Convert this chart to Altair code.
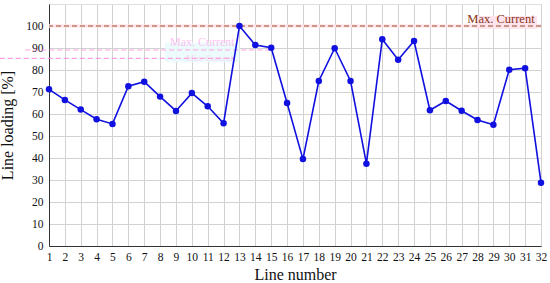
import altair as alt
import pandas as pd

lines = list(range(1, 33))
loading = [71.2, 66.4, 62.0, 57.6, 55.5, 72.6, 74.7, 67.9, 61.4, 69.5, 63.5, 55.8,
           100.0, 91.4, 90.1, 65.0, 39.5, 75.0, 89.9, 75.0, 37.4, 94.0, 84.7, 93.2,
           61.7, 65.9, 61.5, 57.3, 55.1, 80.1, 80.8, 28.8]
max_current = 100
label_text = "Max. Current"
ghost_levels = [89.1, 85.3]
ghost_x_start = [-0.5, -2.1]
ghost_x_end = [14.9, 12.7]
ghost_labels = ["Max. Current", "Min. Current"]

df = pd.DataFrame({"line": lines, "loading": loading})

FONT = "Liberation Serif"
xs = alt.Scale(domain=[1, 32], nice=False, zero=False)
ys = alt.Scale(domain=[0, 110], nice=False)

xax = alt.Axis(values=lines, title="Line number", grid=True, tickSize=0,
               labelPadding=5, labelFontSize=11.5, titleFontSize=16,
               titlePadding=4, labelFont=FONT, titleFont=FONT, labelOverlap=False,
               titleFontWeight="normal", labelColor="#111", titleColor="#111",
               gridColor="#d2d2d2", domainColor="#333", labelFlush=False)
yax = alt.Axis(values=list(range(0, 101, 10)), title="Line loading [%]", grid=True,
               tickSize=0, labelPadding=6, labelFontSize=11.5, titleFontSize=16,
               titlePadding=10, labelFont=FONT, titleFont=FONT, labelOverlap=False,
               titleFontWeight="normal", labelColor="#111", titleColor="#111",
               gridColor="#d2d2d2", domainColor="#333", labelFlush=False)


def X(f):
    return alt.X(f, type="quantitative", scale=xs, axis=xax)


def Y(f):
    return alt.Y(f, type="quantitative", scale=ys, axis=yax)


base = alt.Chart(df)
line = base.mark_line(color="#1010e0", strokeWidth=1.6).encode(x=X("line"), y=Y("loading"))
pts = base.mark_circle(color="#1010e0", size=42, opacity=1).encode(x=X("line"), y=Y("loading"))

g1 = pd.DataFrame({"y": [ghost_levels[0]], "x0": [ghost_x_start[0]], "x1": [ghost_x_end[0]],
                   "lbl": [ghost_labels[0]], "lx": [12.7]})
g2 = pd.DataFrame({"y": [ghost_levels[1]], "x0": [ghost_x_start[1]], "x1": [ghost_x_end[1]],
                   "lbl": [ghost_labels[1]], "lx": [12.6]})
ghost = pd.concat([g1, g2])

cyan = alt.Chart(pd.DataFrame({"x0": [8.3], "x1": [13.0], "y0": [83.5], "y1": [92.5]})).mark_rect(
    color="#eafbfb", opacity=0.9).encode(x=X("x0"), x2="x1:Q", y=Y("y0"), y2="y1:Q")
ghost_rules = alt.Chart(ghost).mark_rule(color="#ff88dd", strokeDash=[5, 3], strokeWidth=1.2,
                                          opacity=0.8).encode(x=X("x0"), x2="x1:Q", y=Y("y"))
ghost_text1 = alt.Chart(g1).mark_text(color="#ffaaee", font=FONT, fontSize=12, align="right",
                                      baseline="bottom", dy=-1, opacity=0.7).encode(
    x=X("lx"), y=Y("y"), text="lbl:N")
ghost_text2 = alt.Chart(g2).mark_text(color="#ffbbee", font=FONT, fontSize=9, align="right",
                                      baseline="middle", opacity=0.6).encode(
    x=X("lx"), y=Y("y"), text="lbl:N")

mc = pd.DataFrame({"y": [max_current], "lbl": [label_text],
                   "bx0": [27.9], "bx1": [31.75], "by0": [98.6], "by1": [104.6], "tx": [31.6]})
mb = alt.Chart(mc)
pink_band = mb.mark_rule(color="#ffe4ec", strokeWidth=3.5).encode(y=Y("y"))
max_rule = mb.mark_rule(color="#9a4a1c", strokeDash=[5, 3], strokeWidth=1.1).encode(y=Y("y"))
lbl_bg = mb.mark_rect(color="#ffe4ee").encode(x=X("bx0"), x2="bx1:Q", y=Y("by0"), y2="by1:Q")
lbl = mb.mark_text(color="#8a3516", font=FONT, fontSize=12.5, align="right",
                   baseline="bottom").encode(x=X("tx"), y=Y("y"), text="lbl:N")

chart = alt.layer(cyan, ghost_rules, ghost_text1, ghost_text2, pink_band, lbl_bg, max_rule, lbl,
                  line, pts).properties(
    width=492, height=242,
    autosize=alt.AutoSizeParams(type="none"),
    padding={"left": 49, "top": 4, "right": 9, "bottom": 37},
).configure_view(stroke="#333", strokeWidth=1).configure(background="white")

chart.save("out.html", embed_options={"renderer": "svg", "actions": False})
